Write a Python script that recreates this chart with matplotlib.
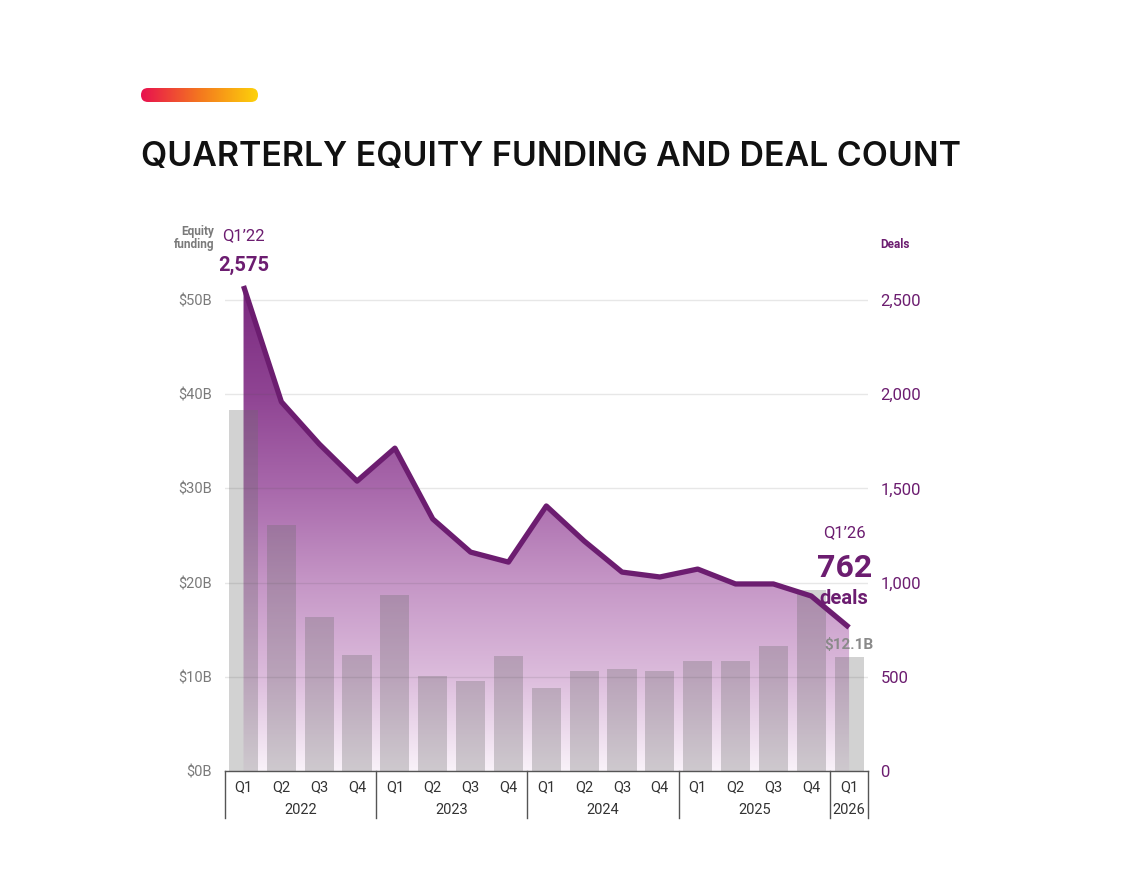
import numpy as np
import matplotlib
matplotlib.use("Agg")
import matplotlib.pyplot as plt
from matplotlib.patches import FancyBboxPatch
from matplotlib.colors import LinearSegmentedColormap, to_rgb
from matplotlib.transforms import blended_transform_factory

plt.rcParams["font.family"] = ["Roboto", "DejaVu Sans"]

quarters = ["Q1", "Q2", "Q3", "Q4"] * 4 + ["Q1"]
years = ["2022", "2023", "2024", "2025", "2026"]
funding_b = [38.3, 26.1, 16.4, 12.3, 18.7, 10.1, 9.6, 12.2,
             8.8, 10.6, 10.8, 10.6, 11.7, 11.7, 13.3, 19.2, 12.1]
deals = [2575, 1960, 1736, 1539, 1714, 1338, 1162, 1109,
         1407, 1221, 1056, 1030, 1072, 993, 993, 929, 762]

PURPLE = "#6c1d70"
GREY_TXT = "#7a7a7a"

W, H = 1121, 894
fig = plt.figure(figsize=(W / 100, H / 100), dpi=100)


def fx(x):
    return x / W


def fy(y):
    return 1 - y / H


# plot area in pixels: x 224.6..868, y 253..771
ax = fig.add_axes([fx(224.6), fy(771), (868 - 224.6) / W, (771 - 253) / H])
x = np.arange(len(deals))
ymax = 2750
scale = 50  # 1 $B of funding == 50 deals on the shared axis

# gradient area under the deals line (colour follows the deals value)
poly = ax.fill_between(x, deals, 0, facecolor="none", edgecolor="none")
stops = [(0, "#f9f2f9"), (500, "#dcbcdc"), (1000, "#c596c6"),
         (1500, "#a868ab"), (2000, "#8f4493"), (2575, "#7a2a7f")]
lv = np.linspace(0, max(deals), 300)
grad = np.zeros((300, 1, 3))
for i in range(3):
    grad[:, 0, i] = np.interp(lv, [s[0] for s in stops],
                              [to_rgb(s[1])[i] for s in stops])
im = ax.imshow(grad, origin="lower", aspect="auto",
               extent=(-0.5, len(deals) - 0.5, 0, max(deals)), zorder=1)
im.set_clip_path(poly.get_paths()[0], transform=ax.transData)

# funding bars (semi transparent grey over the area)
ax.bar(x, np.array(funding_b) * scale, width=0.77,
       color=(0.42, 0.42, 0.42, 0.3), zorder=2)

ax.plot(x, deals, color=PURPLE, lw=3.8, solid_joinstyle="round",
        solid_capstyle="butt", zorder=4)

ax.set_xlim(-0.5, len(deals) - 0.5)
ax.set_ylim(0, ymax)
ax.set_yticks(range(0, 2501, 500))
ax.set_yticklabels([f"{v:,}" for v in range(0, 2501, 500)])
ax.yaxis.tick_right()
ax.tick_params(axis="y", length=0, pad=9, labelsize=12, labelcolor=PURPLE)
ax.grid(axis="y", color="#4d4d4d", alpha=0.13, lw=1, zorder=3)
ax.set_axisbelow(False)
for s in ["top", "left", "right"]:
    ax.spines[s].set_visible(False)
ax.spines["bottom"].set_color("#555555")
ax.spines["bottom"].set_linewidth(1)
ax.spines["bottom"].set_zorder(5)

sec = ax.secondary_yaxis("left", functions=(lambda d: d / scale, lambda f: f * scale))
sec.set_yticks(range(0, 51, 10))
sec.set_yticklabels([f"${v}B" for v in range(0, 51, 10)])
sec.tick_params(length=0, pad=9, labelsize=10.5, labelcolor=GREY_TXT)
sec.spines["left"].set_visible(False)

ax.set_xticks(x)
ax.set_xticklabels(quarters)
ax.tick_params(axis="x", length=0, pad=7, labelsize=10.5, labelcolor="#333333")

trans = blended_transform_factory(ax.transData, ax.transAxes)
bounds = [-0.5, 3.5, 7.5, 11.5, 15.5, 16.5]
for b in bounds:
    ax.plot([b, b], [0, -0.091], color="#555555", lw=1, transform=trans,
            clip_on=False)
for i, yr in enumerate(years):
    mid = (bounds[i] + bounds[i + 1]) / 2
    ax.text(mid, -0.075, yr, transform=trans, ha="center", va="center",
            fontsize=10.5, color="#333333")

# annotations
ax.annotate("2,575", (0, deals[0]), xytext=(0, 15), textcoords="offset points",
            ha="center", va="center", fontsize=14.5, fontweight="bold", color=PURPLE)
ax.annotate("Q1\u201922", (0, deals[0]), xytext=(0, 36), textcoords="offset points",
            ha="center", va="center", fontsize=12, color=PURPLE)
ax.annotate("Q1\u201926", (16, deals[-1]), xytext=(-3, 68), textcoords="offset points",
            ha="center", va="center", fontsize=12, color=PURPLE)
ax.annotate("762", (16, deals[-1]), xytext=(-3, 43), textcoords="offset points",
            ha="center", va="center", fontsize=23, fontweight="bold", color=PURPLE)
ax.annotate("deals", (16, deals[-1]), xytext=(-4, 21), textcoords="offset points",
            ha="center", va="center", fontsize=14.5, fontweight="bold", color=PURPLE)
ax.annotate(f"${funding_b[-1]}B", (16, funding_b[-1] * scale), xytext=(0, 9),
            textcoords="offset points", ha="center", va="center",
            fontsize=11, fontweight="bold", color="#8a8a8a")

fig.text(fx(214), fy(238), "Equity\nfunding", ha="right", va="center",
         fontsize=8.5, fontweight="bold", color=GREY_TXT, linespacing=1.05)
fig.text(fx(880), fy(245), "Deals", ha="left", va="center",
         fontsize=8.5, fontweight="bold", color=PURPLE)

fig.text(fx(141), fy(157), "QUARTERLY EQUITY FUNDING AND DEAL COUNT",
         ha="left", va="center", fontsize=24.4, fontweight="semibold",
         family="Inter", color="#111111")

# gradient pill
pax = fig.add_axes([fx(141), fy(102), 117 / W, 14 / H])
pax.set_axis_off()
pill = np.linspace(0, 1, 256).reshape(1, -1)
cmap = LinearSegmentedColormap.from_list("pill", ["#e8104f", "#f4771f", "#fdd20a"])
pim = pax.imshow(pill, cmap=cmap, aspect="auto", extent=(0, 117, 0, 14))
pax.set_xlim(0, 117)
pax.set_ylim(0, 14)
clip = FancyBboxPatch((0, 0), 117, 14, boxstyle="round,pad=0,rounding_size=7",
                      transform=pax.transData, facecolor="none", edgecolor="none")
pax.add_patch(clip)
pim.set_clip_path(clip)

fig.savefig("out.png", dpi=100)
